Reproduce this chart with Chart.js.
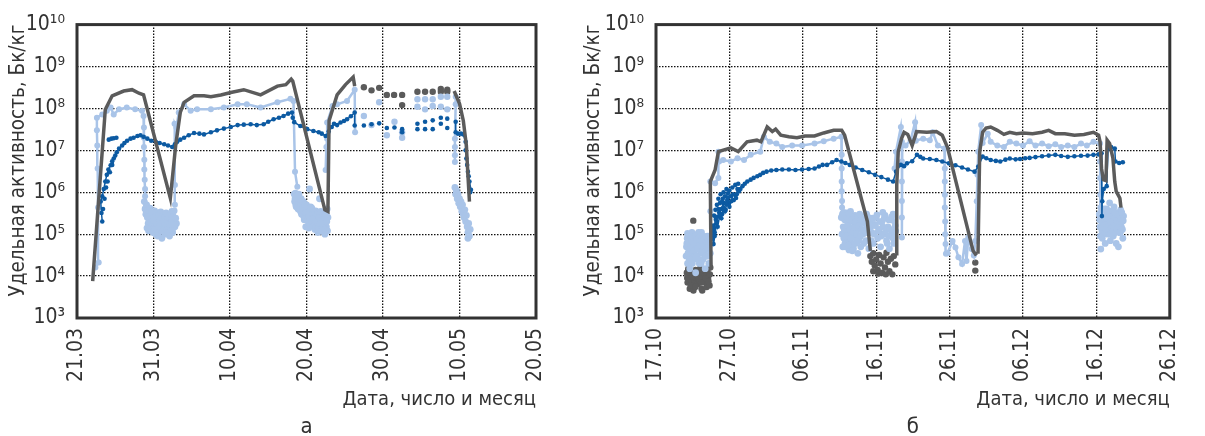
<!DOCTYPE html>
<html lang="ru">
<head>
<meta charset="UTF-8">
<title>Удельная активность</title>
<script src="https://cdn.jsdelivr.net/npm/chart.js"></script>
<style>
  html, body { margin: 0; padding: 0; background: #fff; }
  body { width: 1205px; height: 436px; position: relative; overflow: hidden; }
  .panel { position: absolute; top: 0; }
  #panelA { left: 0; }
  #panelB { left: 580px; }
</style>
</head>
<body>
<div class="panel" id="panelA"><canvas id="chartA" width="580" height="436"></canvas></div>
<div class="panel" id="panelB"><canvas id="chartB" width="625" height="436"></canvas></div>
<script>
// ---- axis labels ----
const yTickValues = [1e3, 1e4, 1e5, 1e6, 1e7, 1e8, 1e9, 1e10];
const yTickLabels = ['10³', '10⁴', '10⁵', '10⁶', '10⁷', '10⁸', '10⁹', '10¹⁰'];
const aTickLabels = ['21.03', '31.03', '10.04', '20.04', '30.04', '10.05', '20.05'];
const bTickLabels = ['17.10', '27.10', '06.11', '16.11', '26.11', '06.12', '16.12', '26.12'];
const yTitle = 'Удельная активность, Бк/кг';
const xTitle = 'Дата, число и месяц';

// ---- panel a (x = days since 21.03) ----
const aGrayDay = [2.05, 3.7, 4.6, 6.1, 7.2, 8.1, 8.7, 12.2, 12.9, 13.5, 14.0, 15.3, 16.6, 17.5, 18.8, 20.1, 21.8, 24.0, 26.2, 27.3, 28.0, 28.2, 32.4, 32.8, 32.95, 34.0, 35.1, 36.1, 36.3, 40.0, 49.3, 50.0, 50.5, 50.9, 51.1, 51.3];
const aGrayVal = [7.6e3, 9.5e7, 2.0e8, 2.6e8, 2.8e8, 2.3e8, 2.1e8, 7.2e5, 1.3e7, 8e7, 1.4e8, 2.0e8, 2.0e8, 1.9e8, 2.1e8, 2.4e8, 2.8e8, 2.1e8, 3.4e8, 3.7e8, 5.0e8, 4.5e8, 3.8e5, 3.5e5, 5.1e7, 2.1e8, 3.7e8, 5.6e8, 3.4e8, null, 2.6e8, 1.3e8, 5.1e7, 1.3e7, 2.6e6, 6e5];
const aGrayDotDay = [37.5, 38.5, 39.5, 40.5, 41.45, 42.5, 42.5, 44.5, 45.5, 46.5, 47.56, 47.56, 48.4, 48.4];
const aGrayDotVal = [3.2e8, 2.7e8, 3.1e8, 2.1e8, 2.1e8, 2.1e8, 1.2e8, 2.5e8, 2.5e8, 2.5e8, 2.9e8, 2.5e8, 2.8e8, 2.5e8];

const aLightDay = [2.4, 2.84, 2.75, 2.7, 2.65, 2.6, 2.6, 3.3, 3.9, 4.4, 4.8, 5.5, 6.5, 7.6, 8.5, 8.7, 8.75, 8.75, 8.75, 8.8, 8.8, 8.85, 8.9, 8.9, 10.0, 12.8, 12.8, 12.75, 13.0, 13.3, 14.0, 14.85, 15.7, 17.5, 19.2, 21.0, 22.2, 24.0, 26.2, 27.9, 28.3, 28.5, 28.8, 30.0, 32.5, 32.6, 32.7, 32.7, 33.4, 34.0, 35.3, 36.3, 36.35, 40.0, 49.5, 49.5, 49.4, 49.4, 49.4, 49.4];
const aLightVal = [1.6e4, 2.1e4, 4.3e5, 3.7e6, 1.3e7, 3e7, 6e7, 7.2e7, 8.8e7, 1.05e8, 7.2e7, 9.5e7, 1.05e8, 9.5e7, 8.8e7, 6.6e7, 3.5e7, 2e7, 1.2e7, 6e6, 3.5e6, 2e6, 1.2e6, 8e5, null, 5e5, 1.5e6, 4.3e7, 3.5e7, 8e7, 1.25e8, 8.8e7, 9.5e7, 9.5e7, 1.05e8, 1.25e8, 1.25e8, 1.05e8, 1.4e8, 1.7e8, 1.5e8, 3.1e6, 1.35e6, null, 3.4e6, 1.2e7, 1.9e7, 4.6e7, 1.15e8, 1.25e8, 1.5e8, 2.8e8, 2.7e7, null, 1.9e8, 1.25e8, 1.9e7, 1.2e7, 7.6e6, 5.3e6];
const aLightDotDay = [37.5, 38.5, 39.5, 40.5, 41.5, 42.5, 42.5, 44.5, 44.5, 45.5, 45.5, 46.5, 46.5, 47.56, 47.56, 48.4, 48.4];
const aLightDotVal = [6.6e7, 4e7, 1.4e8, 2.3e7, 4.8e7, 2.7e7, 2e7, 1.65e8, 1.1e8, 1.65e8, 9.5e7, 1.65e8, 1.15e8, 1.9e8, 1.1e8, 1.9e8, 9.5e7];
const aCloudDay = [8.8, 8.9, 9.0, 9.1, 9.2, 9.3, 9.4, 9.5, 9.6, 9.7, 9.8, 9.9, 10.0, 10.1, 10.2, 10.3, 10.4, 10.5, 10.6, 10.7, 10.8, 10.9, 11.0, 11.1, 11.2, 11.3, 11.4, 11.5, 11.6, 11.7, 11.8, 11.9, 12.0, 12.1, 12.2, 12.3, 12.4, 12.5, 12.6, 12.8, 13.0,
  9.05, 9.15, 9.25, 9.35, 9.45, 9.55, 9.65, 9.75, 9.85, 9.95, 10.05, 10.15, 10.25, 10.35, 10.45, 10.55, 10.65, 10.75, 10.85, 10.95, 11.05, 11.15, 11.25, 11.35, 11.45, 11.55, 11.65, 11.75, 11.85, 11.95, 12.05, 12.15, 12.25, 12.35, 12.45, 12.55, 12.65, 12.7, 12.9,
  28.4, 28.5, 28.6, 28.7, 28.8, 28.9, 29.0, 29.1, 29.2, 29.3, 29.4, 29.5, 29.6, 29.7, 29.8, 29.9, 30.0, 30.1, 30.2, 30.3, 30.4, 30.5, 30.6, 30.7, 30.8, 30.9, 31.0, 31.1, 31.2, 31.3, 31.4, 31.5, 31.6, 31.7, 31.8, 31.9, 32.0, 32.1, 32.2, 32.3, 32.4, 32.5, 32.6, 32.7, 32.8,
  28.45, 28.55, 28.65, 28.75, 28.85, 28.95, 29.05, 29.15, 29.25, 29.35, 29.45, 29.55, 29.65, 29.75, 29.85, 29.95, 30.05, 30.15, 30.25, 30.35, 30.45, 30.55, 30.65, 30.75, 30.85, 30.95, 31.05, 31.15, 31.25, 31.35, 31.45, 31.55, 31.65, 31.75, 31.85, 31.95, 32.05, 32.15, 32.25, 32.35, 32.45, 32.55, 32.65, 32.75,
  49.4, 49.5, 49.6, 49.7, 49.8, 49.9, 50.0, 50.1, 50.2, 50.3, 50.4, 50.5, 50.6, 50.7, 50.8, 50.9, 51.0, 51.1, 51.2, 51.3, 51.1, 51.4];
const aCloudVal = [6e5, 4e5, 3e5, 5e5, 2.5e5, 1.8e5, 3.5e5, 2.2e5, 1.5e5, 2.8e5, 1.2e5, 2e5, 3e5, 1.6e5, 2.4e5, 1e5, 1.4e5, 3.2e5, 2e5, 1.1e5, 1.7e5, 2.6e5, 1.3e5, 8e4, 2.1e5, 3e5, 1.5e5, 1e5, 2.3e5, 1.8e5, 1.2e5, 2.8e5, 1.6e5, 9e4, 2e5, 1.4e5, 3.5e5, 1.1e5, 2.2e5, 1.5e5, 1.8e5,
  4.5e5, 1.4e5, 3.8e5, 1.2e5, 2.7e5, 4.2e5, 1.9e5, 3.3e5, 2.4e5, 1.1e5, 2.1e5, 3.6e5, 1.3e5, 2.7e5, 1.8e5, 9e4, 2.9e5, 1.5e5, 2.2e5, 3.4e5, 1.8e5, 2.7e5, 1.2e5, 2e5, 2.6e5, 1.6e5, 3.2e5, 1.3e5, 2.1e5, 1.1e5, 2.5e5, 1.7e5, 3e5, 1.9e5, 1.25e5, 2.7e5, 1.7e5, 3.6e5, 2.4e5,
  9e5, 7e5, 5e5, 8e5, 6e5, 4e5, 9e5, 5.5e5, 3.5e5, 7e5, 4.5e5, 3e5, 6e5, 2.2e5, 4e5, 1.5e5, 5e5, 3e5, 2e5, 1.4e5, 1.2e6, 3.5e5, 2.5e5, 4.2e5, 1.8e5, 3e5, 2.2e5, 1.3e5, 3.6e5, 2.6e5, 1.6e5, 1.1e5, 2e5, 7e5, 3e5, 1.5e5, 2.4e5, 1.2e5, 3.2e5, 1.8e5, 1e5, 2.2e5, 1.5e5, 4e5, 2.5e5,
  6e5, 9.5e5, 4.5e5, 6.5e5, 8.5e5, 5.5e5, 7e5, 4e5, 5.5e5, 3e5, 6e5, 4e5, 2.6e5, 5e5, 3.2e5, 2.4e5, 4e5, 2.2e5, 3.4e5, 2.6e5, 1.8e5, 4.5e5, 2e5, 3e5, 2.4e5, 1.6e5, 3.4e5, 2.4e5, 1.5e5, 2e5, 3e5, 1.4e5, 2.5e5, 1.8e5, 3.5e5, 1.2e5, 1.8e5, 2.8e5, 1.4e5, 2.5e5, 1.3e5, 3e5, 2e5, 1.2e5,
  1.3e6, 9e5, 1.1e6, 7e5, 9e5, 5.5e5, 7e5, 4.5e5, 6e5, 3.5e5, 5e5, 3e5, 2.5e5, 3.8e5, 2e5, 2.8e5, 1.5e5, 1.1e5, 1.8e5, 9e4, 8e4, 1.3e5];

const aDarkDay = [4.15, 4.5, 4.8, 5.15, 5.2, 3.3, 3.2, 3.1, 3.3, 3.5, 3.7, 3.9, 4.1, 4.4, 4.6, 4.8, 5.0, 5.2, 5.5, 5.9, 6.2, 6.55, 7.0, 7.4, 7.9, 8.3, 8.7, 9.2, 9.7, 10.3, 10.8, 11.4, 11.9, 12.45, 12.8, 13.1, 13.5, 14.0, 14.6, 15.3, 16.0, 16.6, 17.5, 18.3, 19.2, 20.1, 21.0, 21.8, 22.7, 23.5, 24.4, 25.0, 25.7, 26.4, 27.0, 27.6, 28.1, 28.2, 28.4, 29.2, 30.1, 30.9, 31.6, 32.0, 32.5, 32.9, 33.3, 33.6, 34.0, 34.45, 34.9, 35.3, 35.8, 36.3, 36.3, 40.0, 49.5, 49.5, 49.8, 50.2, 50.5, 50.8, 50.8, 50.9, 51.0, 51.1, 51.2, 51.3, 51.5, 51.4];
const aDarkVal = [1.8e7, 1.9e7, 1.95e7, 2.0e7, null, 2e5, 3.2e5, 6e5, 8e5, 1.2e6, 1.8e6, 2.6e6, 3.5e6, 4.4e6, 5.5e6, 6.4e6, 7.5e6, 9e6, 1.1e7, 1.3e7, 1.5e7, 1.7e7, 1.9e7, 2.0e7, 2.2e7, 2.3e7, 2.1e7, 1.9e7, 1.7e7, 1.6e7, 1.5e7, 1.4e7, 1.3e7, 1.2e7, 1.4e7, 1.6e7, 1.8e7, 2.0e7, 2.3e7, 2.6e7, 2.5e7, 2.4e7, 2.7e7, 3.0e7, 3.3e7, 3.6e7, 4.0e7, 4.1e7, 4.2e7, 4.0e7, 4.2e7, 4.8e7, 5.5e7, 6e7, 6.6e7, 7.5e7, 8e7, 6e7, 4.7e7, 3.8e7, 3.2e7, 2.9e7, 2.7e7, 2.5e7, 2.2e7, 2.8e7, 3.6e7, 4.3e7, 4.0e7, 4.6e7, 5.0e7, 5.5e7, 6.5e7, 8e7, 3.9e7, null, 4.8e7, 2.7e7, 2.5e7, 2.5e7, 2.4e7, 1.6e7, 1e7, 6.4e6, 4.5e6, 3.1e6, 2.4e6, 1.8e6, 1.15e6, 1e6];
const aDarkDotDay = [37.5, 38.5, 39.5, 40.5, 41.5, 42.5, 42.5, 44.5, 44.5, 45.5, 45.5, 46.5, 46.5, 47.56, 47.56, 48.4, 48.4, 3.4, 3.6, 3.8, 4.0, 4.3, 4.6];
const aDarkDotVal = [3.9e7, 4.2e7, 4.4e7, 3.4e7, 3.5e7, 3.2e7, 2.7e7, 4.3e7, 3.2e7, 4.8e7, 3.2e7, 5.2e7, 3.2e7, 6e7, 4.3e7, 5.7e7, 3.4e7, 4e5, 7e5, 1.3e6, 1.8e6, 3e6, 4.5e6];

// ---- panel б (x = days since 17.10) ----
const bGrayDay = [7.5, 7.4, 8.05, 8.5, 10.2, 11.2, 12.4, 13.75, 14.3, 15.15, 15.85, 16.3, 17.0, 18.1, 19.2, 20.3, 21.6, 22.85, 24.2, 25.3, 25.7, 28.8, 29.2, 30.0, 32.7, 32.8, 33.0, 33.45, 33.8, 34.3, 34.9, 35.5, 36.9, 38.2, 39.0, 39.7, 43.2, 43.65, 43.8, 43.87, 44.1, 44.5, 44.96, 45.6, 46.5, 47.4, 48.2, 49.1, 50.0, 51.3, 52.6, 53.5, 54.4, 55.7, 57.0, 58.3, 59.6, 60.3, 60.5, 60.7, 60.94, 61.3, 61.46, 61.8, 62.25, 62.5, 62.7, 63.2, 63.35];
const bGrayVal = [1.5e4, 1.8e6, 3.4e6, 9.3e6, 1.15e7, 9.3e6, 1.6e7, 1.75e7, 1.6e7, 3.6e7, 2.8e7, 3.2e7, 2.3e7, 2.1e7, 2.0e7, 2.2e7, 2.2e7, 2.6e7, 3.0e7, 3.0e7, 2.3e7, 2e5, 4e4, null, 3.4e4, 1.5e6, 9.3e6, 1.9e7, 2.7e7, 2.4e7, 1.3e7, 2.8e7, 2.7e7, 2.8e7, 2.3e7, 1.2e7, 4e4, 3.1e4, null, 3.4e4, 9.3e6, 2.7e7, 3.4e7, 3.6e7, 3e7, 2.4e7, 2.7e7, 2.5e7, 2.6e7, 2.5e7, 2.7e7, 3e7, 2.5e7, 2.5e7, 2.3e7, 2.4e7, 2.7e7, 2.3e7, 1.6e7, 3.7e6, 2e6, 1.9e6, 1.75e7, 1.45e7, 6.5e6, 1.8e6, 1.05e6, 7.2e5, 4.3e5];
const bGrayDotDay = [4.2, 4.3, 4.4, 4.5, 4.6, 4.7, 4.8, 4.9, 5.0, 5.1, 5.2, 5.3, 5.4, 5.5, 5.6, 5.7, 5.8, 5.9, 6.0, 6.1, 6.2, 6.3, 6.4, 6.5, 6.6, 6.7, 6.8, 6.9, 7.0, 7.1, 7.2, 7.3, 7.4, 5.08,
  4.25, 4.35, 4.55, 4.75, 4.95, 5.15, 5.35, 5.55, 5.75, 5.95, 6.15, 6.35, 6.55, 6.75, 6.95, 7.15, 7.35,
  29.2, 29.4, 29.6, 29.8, 30.0, 30.2, 30.4, 30.6, 30.8, 31.0, 31.2, 31.4, 31.6, 31.8, 32.0, 32.2, 32.4, 32.6, 29.6, 30.3, 31.3, 43.5, 43.5];
const bGrayDotVal = [1.2e4, 7e3, 1.5e4, 9e3, 5e3, 1.1e4, 8e3, 1.3e4, 6e3, 4.5e3, 1e4, 7.5e3, 1.4e4, 9e3, 1.2e4, 6.5e3, 1.1e4, 8e3, 1.5e4, 1e4, 5e3, 4.5e3, 1.2e4, 8.5e3, 1.3e4, 7e3, 1e4, 5.5e3, 1.4e4, 9e3, 1.1e4, 6e3, 1.6e4, 2.1e5,
  9e3, 1.3e4, 1.2e4, 6e3, 1e4, 1.2e4, 5.5e3, 1.1e4, 9e3, 1.3e4, 7e3, 1e4, 1.2e4, 9e3, 1.2e4, 7.5e3, 1.1e4,
  3e4, 2.2e4, 3.5e4, 1.8e4, 2.5e4, 1.4e4, 3.2e4, 2e4, 1.2e4, 2.8e4, 1.6e4, 3.6e4, 2.2e4, 1.3e4, 2.6e4, 1.1e4, 3e4, 1.9e4, 1.3e4, 1.15e4, 1.1e4, 2.1e4, 1.35e4];

const bLightDay = [7.4, 7.4, 8.05, 8.5, 8.5, 8.6, 9.15, 10.2, 11.1, 12.0, 12.9, 14.2, 14.7, 15.5, 16.4, 17.2, 18.55, 19.9, 21.6, 22.85, 24.2, 25.26, 25.3, 25.3, 25.3, 25.3, 25.35, 25.35, 29.0, 32.5, 32.7, 33.36, 33.5, 33.5, 33.5, 33.5, 33.5, 33.5, 33.55, 34.0, 34.7, 35.3, 35.4, 36.4, 37.3, 37.7, 38.4, 39.3, 39.35, 39.35, 39.35, 39.35, 39.4, 39.4, 39.45, 39.5, 39.7, 40.4, 40.8, 41.2, 41.7, 42.1, 42.3, 42.55, 43.0, 43.3, 43.5, 43.7, 43.8, 43.9, 44.3, 44.5, 45.2, 45.6, 46.5, 47.4, 48.2, 49.1, 50.0, 50.9, 51.7, 52.6, 53.5, 54.4, 55.2, 56.1, 57.0, 57.9, 58.7, 59.6, 60.5, 60.5, 60.5, 60.55, 60.55];
const bLightVal = [3.5e5, 1.8e6, 1.65e6, 2.2e6, 9.3e6, 5.4e6, 5.9e6, 5.4e6, 6.5e6, 5.9e6, 7.8e6, 9.3e6, 2.1e7, 1.6e7, 1.45e7, 1.2e7, 1.3e7, 1.3e7, 1.45e7, 1.65e7, 1.9e7, 2.1e7, 7.8e6, 3.7e6, 1.8e6, 1.05e6, 6.2e5, 4.3e5, null, 3.7e6, 9.3e6, 3.6e7, 1.6e7, 5.4e6, 1.8e6, 6.2e5, 2.5e5, 8.3e4, 1.3e7, 1.3e7, 1.75e7, 4.7e7, 1.7e7, 1.9e7, 1.75e7, 2.7e7, 1.3e7, 1.1e7, 3.7e6, 1.8e6, 8.7e5, 4.3e5, 2e5, 1e5, 5.8e4, 3.4e4, 3.5e4, 6.9e4, 4.8e4, 2.8e4, 1.95e4, 6.9e4, 2.3e4, 8.3e4, 4.4e4, 3.1e4, 6.9e4, 6.1e5, 2.6e6, 9.3e6, 4e7, 1.5e7, 2.5e7, 1.6e7, 1.3e7, 1.2e7, 1.6e7, 1.45e7, 1.3e7, 1.65e7, 1.3e7, 1.45e7, 1.25e7, 1.4e7, 1.2e7, 1.3e7, 1.2e7, 1.45e7, 1.3e7, 1.6e7, 1.45e7, 5.4e6, 2.2e6, 8.7e5, 4.3e5];
const bCloudDay = [4.1, 4.2, 4.3, 4.4, 4.5, 4.6, 4.7, 4.8, 4.9, 5.0, 5.1, 5.2, 5.3, 5.4, 5.5, 5.6, 5.7, 5.8, 5.9, 6.0, 6.1, 6.2, 6.3, 6.4, 6.5, 6.6, 6.7, 6.8, 6.9, 7.0, 7.1, 7.2, 7.3, 7.4, 4.3, 5.8, 4.6, 6.4,
  4.15, 4.25, 4.35, 4.45, 4.55, 4.65, 4.75, 4.85, 4.95, 5.05, 5.15, 5.25, 5.35, 5.45, 5.55, 5.65, 5.75, 5.85, 5.95, 6.05, 6.15, 6.25, 6.35, 6.45, 6.55, 6.65, 6.75, 6.85, 6.95, 7.05, 7.15, 7.25, 7.35,
  25.4, 25.5, 25.6, 25.7, 25.8, 25.9, 26.0, 26.1, 26.2, 26.3, 26.4, 26.5, 26.6, 26.7, 26.8, 26.9, 27.0, 27.1, 27.2, 27.3, 27.4, 27.5, 27.6, 27.7, 27.8, 27.9, 28.0, 28.2, 28.4, 28.6, 28.8, 29.0, 29.2, 29.4, 29.6, 29.8, 30.0, 30.2, 30.4, 30.6, 30.8, 31.0, 31.2, 31.4, 31.6, 31.8, 32.0, 32.2, 32.4, 32.6, 26.5, 28.7, 30.9, 32.3, 29.5, 31.7,
  25.25, 25.35, 25.45, 25.55, 25.65, 25.75, 25.85, 25.95, 26.05, 26.15, 26.25, 26.35, 26.45, 26.55, 26.65, 26.75, 26.85, 26.95, 27.05, 27.15, 27.25, 27.35, 27.45, 27.55, 27.65, 27.75, 27.85, 27.95, 28.1, 28.3, 28.5, 28.7, 28.9, 29.1, 29.3, 29.5, 29.7, 29.9, 30.1, 30.3, 30.5, 30.7, 30.9, 31.1, 31.3, 31.5, 31.7, 31.9, 32.1, 32.3, 32.5, 32.65,
  60.4, 60.5, 60.6, 60.7, 60.8, 60.9, 61.0, 61.1, 61.2, 61.3, 61.4, 61.5, 61.6, 61.7, 61.8, 61.9, 62.0, 62.1, 62.2, 62.3, 62.4, 62.5, 62.6, 62.7, 62.8, 62.9, 63.0, 63.1, 63.2, 63.3, 63.4, 63.5, 63.6, 63.7,
  60.45, 60.55, 60.65, 60.75, 60.85, 60.95, 61.05, 61.15, 61.25, 61.35, 61.45, 61.55, 61.65, 61.75, 61.85, 61.95, 62.05, 62.15, 62.25, 62.35, 62.45, 62.55, 62.65, 62.75, 62.85, 62.95, 63.05, 63.15, 63.25, 63.35, 63.45, 63.55, 63.65];
const bCloudVal = [3e4, 6e4, 2e4, 9e4, 4e4, 1.5e4, 7e4, 3e4, 1.1e5, 5e4, 2.5e4, 8e4, 4e4, 1.2e4, 6e4, 3e4, 1e5, 5e4, 2e4, 7e4, 3.5e4, 1.1e5, 5e4, 2.5e4, 8e4, 4e4, 1.5e4, 6e4, 3e4, 9e4, 4.5e4, 2e4, 7e4, 3.5e4, 1.05e5, 1.1e5, 5.5e4, 6.5e4,
  5e4, 8e4, 3.5e4, 6.5e4, 2.5e4, 9e4, 4.5e4, 7e4, 2e4, 8.5e4, 4e4, 6e4, 9e4, 3e4, 7.5e4, 4.5e4, 2.5e4, 8e4, 5.5e4, 9.5e4, 2e4, 7e4, 4e4, 9e4, 5e4, 7.5e4, 3e4, 8.5e4, 5e4, 6.5e4, 3e4, 9e4, 5.5e4,
  3e5, 1.5e5, 8e4, 2.2e5, 5e4, 1.2e5, 3.2e5, 7e4, 1.8e5, 4.2e4, 1e5, 2.6e5, 6e4, 1.4e5, 2e5, 4.5e4, 9e4, 2.8e5, 1.2e5, 6.5e4, 1.7e5, 3.5e4, 2.3e5, 8e4, 1.3e5, 5e4, 1.9e5, 1e5, 2.6e5, 7e4, 1.5e5, 4.5e4, 2.1e5, 1.1e5, 6e4, 1.7e5, 2.5e5, 8e4, 1.3e5, 5e4, 2e5, 1e5, 2.8e5, 7e4, 1.5e5, 4.5e4, 2.2e5, 1.1e5, 6e4, 1.6e5, 3.5e5, 3e5, 3.3e5, 3e5, 1.6e5, 9e4,
  2.5e5, 1e5, 5e4, 3.3e5, 1.3e5, 6e4, 2.7e5, 9e4, 1.6e5, 2.4e5, 5.5e4, 3e5, 1.3e5, 8e4, 2.2e5, 4e4, 1.1e5, 2.6e5, 1.5e5, 6e4, 2e5, 1e5, 2.5e5, 7e4, 1.6e5, 3e5, 9e4, 2.2e5, 1.3e5, 6e4, 1.8e5, 1.1e5, 2.5e5, 1.4e5, 7e4, 2.4e5, 1e5, 1.6e5, 2.9e5, 1.2e5, 2e5, 9e4, 1.5e5, 2.4e5, 1.2e5, 6e4, 2.2e5, 1.3e5, 2.6e5, 8e4, 2e5, 1.2e5,
  3e5, 1.5e5, 4.4e4, 2e5, 8e4, 3.5e5, 1.2e5, 2.5e5, 6e4, 1.8e5, 4e5, 1e5, 2.2e5, 1.4e5, 5.6e5, 7e4, 3e5, 1.6e5, 2.4e5, 9e4, 4.5e5, 1.3e5, 2e5, 6e4, 3.2e5, 1.7e5, 5e4, 2.6e5, 1.1e5, 3.8e5, 1.5e5, 2e5, 8e4, 2.7e5,
  2.2e5, 9e4, 3.3e5, 1.2e5, 2.5e5, 1.6e5, 4e5, 1.1e5, 2.8e5, 1.3e5, 2.3e5, 3.5e5, 1.7e5, 2.6e5, 1e5, 2e5, 1.4e5, 3.6e5, 1.2e5, 2.7e5, 1.6e5, 3.3e5, 1.1e5, 2.1e5, 1.3e5, 2.9e5, 1.5e5, 2e5, 1.1e5, 2.3e5, 3.3e5, 1.3e5, 2.1e5];

const bDarkDay = [7.6, 7.84, 7.9, 8.0, 8.27, 8.1, 8.4, 8.7, 8.5, 8.9, 9.15, 9.0, 9.4, 9.6, 9.8, 10.0, 10.24, 10.5, 10.9, 11.1, 11.3, 11.78, 12.1, 12.44, 12.9, 13.3, 13.8, 14.2, 14.6, 15.06, 15.7, 16.4, 17.2, 18.1, 19.0, 19.9, 20.8, 21.6, 22.2, 22.7, 23.3, 24.0, 24.6, 25.26, 25.8, 26.4, 27.2, 28.1, 29.0, 29.85, 30.7, 31.6, 32.3, 32.7, 33.36, 33.8, 34.2, 34.9, 35.55, 36.0, 36.4, 37.3, 38.2, 39.0, 39.9, 40.8, 41.7, 42.5, 43.4, 43.9, 44.5, 45.0, 45.6, 46.3, 46.9, 47.6, 48.2, 49.0, 49.6, 50.3, 50.9, 51.7, 52.6, 53.5, 54.4, 55.2, 56.1, 57.0, 57.9, 58.8, 59.6, 60.3, 60.7, 60.75, 60.8, 61.0, 61.4, 61.6, 62.0, 62.5, 62.6, 63.1, 63.6];
const bDarkVal = [1e5, 5.8e4, 1.4e5, 9e4, 2e5, 2.6e5, 1.5e5, 2.9e5, 4e5, 2.4e5, 4.3e5, 6e5, 3.5e5, 5.1e5, 7.5e5, 4.5e5, 6.1e5, 9e5, 7.3e5, 1.2e6, 1.05e6, 1.4e6, 1.6e6, 1.8e6, 2e6, 2.2e6, 2.4e6, 2.6e6, 2.9e6, 3.1e6, 3.3e6, 3.4e6, 3.5e6, 3.5e6, 3.4e6, 3.5e6, 3.6e6, 3.7e6, 4.1e6, 4.5e6, 4.5e6, 5.2e6, 5.9e6, 5.4e6, 5e6, 4.5e6, 3.9e6, 3.4e6, 3e6, 2.6e6, 2.3e6, 2e6, 1.8e6, 3.1e6, 4.5e6, 4.2e6, 4.9e6, 5.5e6, 7.8e6, 7e6, 6.4e6, 6.2e6, 5.9e6, 5.4e6, 4.9e6, 4.4e6, 3.9e6, 3.5e6, 3.1e6, 4.1e6, 7.1e6, 6.5e6, 5.9e6, 5.6e6, 5.4e6, 6e6, 6.4e6, 6.1e6, 6.2e6, 6.5e6, 6.6e6, 6.9e6, 7.2e6, 7.5e6, 7.8e6, 7.3e6, 7e6, 7.2e6, 7.4e6, 7.5e6, 7.8e6, 8e6, 8.5e6, 2.7e5, 6.1e5, 1.2e6, 1.4e6, 1.1e7, 1.2e7, 1.1e7, 5.4e6, 5e6, 5.2e6];
const bDarkDotDay = [7.7, 7.8, 7.9, 8.0, 8.1, 8.2, 8.3, 8.4, 8.5, 8.6, 8.7, 8.8, 8.9, 9.0, 9.1, 9.2, 9.3, 9.4, 9.5, 9.6, 9.7, 9.8, 9.9, 10.0, 10.2, 10.4, 10.6, 10.8, 11.0, 11.2, 11.5, 7.75, 8.15];
const bDarkDotVal = [8e4, 1.6e5, 2.8e5, 1.1e5, 3.8e5, 1.8e5, 5e5, 2.6e5, 7e5, 3.3e5, 5.5e5, 9e5, 4e5, 3e5, 7e5, 1e6, 5.5e5, 8e5, 3.8e5, 1.2e6, 6.5e5, 9.5e5, 5.5e5, 1.1e6, 8e5, 1.3e6, 6.5e5, 1.5e6, 9e5, 1.6e6, 1.2e6, 1.2e5, 2.2e5];

// ---- styling ----
const FONT = "'DejaVu Sans Condensed', 'Liberation Sans Narrow', sans-serif";
const TEXT = '#333';
const GRAY = '#5b5b5b';
const LIGHT = '#a9c4e8';
const DARK = '#0c5aa2';

function pts(days, vals) {
  return days.map((d, i) => ({ x: d, y: vals[i] }));
}

// thick frame round the plot area + panel letter under it
const framePlugin = {
  id: 'frame',
  afterDraw(chart, args, opts) {
    const { ctx, chartArea: a } = chart;
    ctx.save();
    ctx.strokeStyle = '#333';
    ctx.lineWidth = 3;
    ctx.strokeRect(a.left, a.top, a.right - a.left, a.bottom - a.top);
    ctx.fillStyle = TEXT;
    ctx.font = '22px ' + FONT;
    ctx.textAlign = 'center';
    ctx.textBaseline = 'alphabetic';
    ctx.fillText(opts.letter, (a.left + a.right) / 2, 433);
    ctx.restore();
  }
};

function makeChart(id, cfg) {
  const line = (data, color, lw, r, order) => ({
    data, showLine: true, borderColor: color, backgroundColor: color,
    borderWidth: lw, pointRadius: r, pointBorderWidth: 0, pointHoverRadius: r, order
  });
  const dots = (data, color, r, order) => ({
    data, showLine: false, backgroundColor: color, borderColor: color,
    pointRadius: r, pointBorderWidth: 0, order
  });
  return new Chart(document.getElementById(id), {
    type: 'scatter',
    data: {
      datasets: [
        line(cfg.gray, GRAY, 3.5, 0, 1),
        dots(cfg.grayDots, GRAY, 3.2, 5),
        line(cfg.dark, DARK, 1.5, 2.3, 2),
        dots(cfg.darkDots, DARK, 2.3, 2),
        line(cfg.light, LIGHT, 2.5, 3, 3),
        dots(cfg.lightDots, LIGHT, 3.2, 3),
        dots(cfg.cloud, LIGHT, 3.4, 4)
      ]
    },
    options: {
      responsive: false,
      animation: false,
      events: [],
      layout: { padding: { top: 21, right: cfg.padRight, left: 0, bottom: 0 } },
      plugins: { legend: { display: false }, tooltip: { enabled: false }, frame: { letter: cfg.letter } },
      scales: {
        x: {
          type: 'linear', min: 0, max: cfg.maxDay,
          afterFit: (s) => { s.height = 118; },
          afterBuildTicks: (s) => { s.ticks = cfg.ticks.map((t, i) => ({ value: i * 10 })); },
          ticks: {
            autoSkip: false, minRotation: 90, maxRotation: 90, padding: 10, color: TEXT,
            font: { family: FONT, size: 21 },
            callback: (v) => cfg.ticks[Math.round(v / 10)]
          },
          grid: { color: '#111', lineWidth: 1.3, drawTicks: false },
          border: { display: false, dash: [1.5, 1.5] },
          title: {
            display: true, text: xTitle, align: 'end', color: TEXT,
            font: { family: FONT, size: 20 }, padding: { top: 0, bottom: 24 }
          }
        },
        y: {
          type: 'logarithmic', min: 1e3, max: 1e10,
          afterFit: (s) => { s.width = cfg.yWidth; },
          afterBuildTicks: (s) => { s.ticks = yTickValues.map(v => ({ value: v })); },
          ticks: {
            padding: 12, color: TEXT, font: { family: FONT, size: 21 },
            callback: (v) => yTickLabels[yTickValues.indexOf(v)]
          },
          grid: { color: '#111', lineWidth: 1.3, drawTicks: false },
          border: { display: false, dash: [1.5, 1.5] },
          title: {
            display: true, text: yTitle, align: 'end', color: TEXT,
            font: { family: FONT, size: 20.5 }, padding: { top: cfg.titlePad, bottom: 0 }
          }
        }
      }
    },
    plugins: [framePlugin]
  });
}

makeChart('chartA', {
  letter: 'а', maxDay: 60, ticks: aTickLabels, padRight: 44, yWidth: 77, titlePad: 6,
  gray: pts(aGrayDay, aGrayVal), grayDots: pts(aGrayDotDay, aGrayDotVal),
  dark: pts(aDarkDay, aDarkVal), darkDots: pts(aDarkDotDay, aDarkDotVal),
  light: pts(aLightDay, aLightVal), lightDots: pts(aLightDotDay, aLightDotVal),
  cloud: pts(aCloudDay, aCloudVal)
});

makeChart('chartB', {
  letter: 'б', maxDay: 70, ticks: bTickLabels, padRight: 16, yWidth: 76, titlePad: 1,
  gray: pts(bGrayDay, bGrayVal), grayDots: pts(bGrayDotDay, bGrayDotVal),
  dark: pts(bDarkDay, bDarkVal), darkDots: pts(bDarkDotDay, bDarkDotVal),
  light: pts(bLightDay, bLightVal), lightDots: [],
  cloud: pts(bCloudDay, bCloudVal)
});
</script>
</body>
</html>
